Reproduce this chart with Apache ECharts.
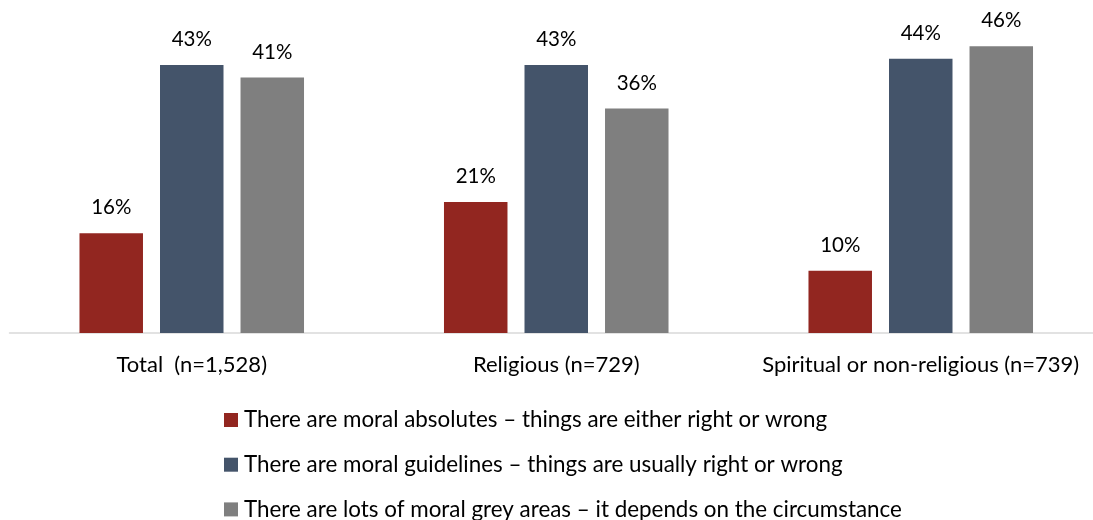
<!DOCTYPE html>
<html>
<head>
<meta charset="utf-8">
<script src="https://cdn.jsdelivr.net/npm/echarts@6/dist/echarts.min.js"></script>
<style>
html,body{margin:0;padding:0;background:#fff;}
#chart{width:1093px;height:520px;}
</style>
</head>
<body>
<div id="chart"></div>
<script>
const categories = ['Total  (n=1,528)', 'Religious (n=729)', 'Spiritual or non-religious (n=739)'];
const seriesNames = [
  'There are moral absolutes \u2013 things are either right or wrong',
  'There are moral guidelines \u2013 things are usually right or wrong',
  'There are lots of moral grey areas \u2013 it depends on the circumstance'
];
const absolutes = [16, 21, 10];
const guidelines = [43, 43, 44];
const greyAreas = [41, 36, 46];
const colors = ['#922620', '#44546A', '#7F7F7F'];

const FONT = 'Lato';
const chart = echarts.init(document.getElementById('chart'), null, {renderer: 'canvas'});
const dataSets = [absolutes, guidelines, greyAreas];
chart.setOption({
  animation: false,
  textStyle: {fontFamily: FONT},
  grid: {left: 9.5, top: 21.3, width: 1093.5, height: 311.7, containLabel: false, outerBoundsMode: 'none'},
  legend: {
    orient: 'vertical',
    left: 219,
    top: 403,
    height: 200,
    itemWidth: 14,
    itemHeight: 14,
    itemGap: 20.7,
    icon: 'rect',
    textStyle: {fontFamily: FONT, fontSize: 22.4, color: '#000', lineHeight: 24, padding: [0, 0, 0, 1]},
    data: seriesNames
  },
  xAxis: {
    type: 'category',
    data: categories,
    axisLine: {show: true, lineStyle: {color: '#D9D9D9', width: 1.5}},
    axisTick: {show: false},
    axisLabel: {fontFamily: FONT, fontSize: 22, color: '#000', margin: 21, interval: 0}
  },
  yAxis: {
    type: 'value', min: 0, max: 50, show: false,
    splitLine: {show: false}
  },
  series: dataSets.map((d, i) => ({
    name: seriesNames[i],
    type: 'bar',
    data: d,
    barWidth: 63.5,
    barGap: '26.8%',
    itemStyle: {color: colors[i]},
    label: {
      show: true, position: 'top', distance: 15,
      formatter: '{c}%', fontFamily: FONT, fontSize: 20.5, color: '#000'
    }
  }))
});
</script>
</body>
</html>
